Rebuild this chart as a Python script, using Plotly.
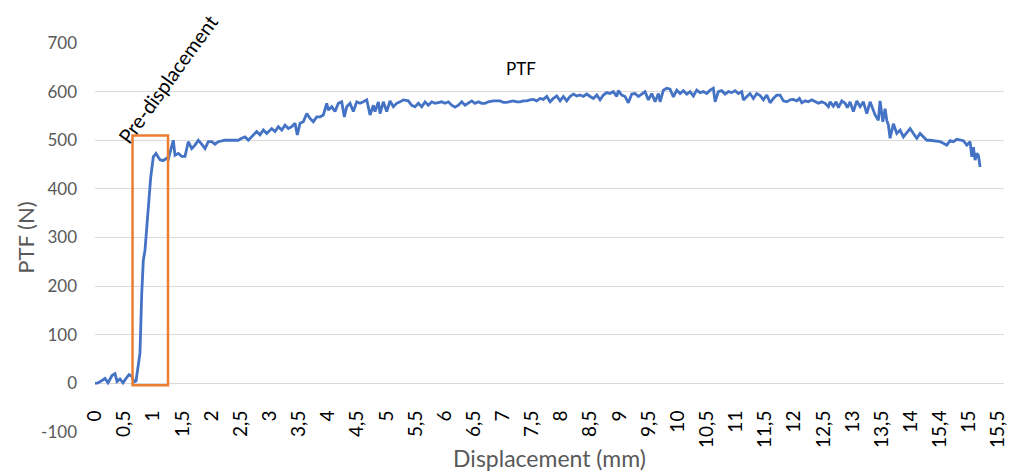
import plotly.graph_objects as go

# ---- data ----
displacement_mm = [
    0.000, 0.051, 0.120, 0.172, 0.223, 0.292, 0.343, 0.378, 0.429, 0.481,
    0.532, 0.584, 0.635, 0.669, 0.704, 0.738, 0.772, 0.802, 0.829, 0.858,
    0.915, 0.956, 1.001, 1.047, 1.081, 1.116, 1.167, 1.231, 1.258, 1.344,
    1.373, 1.430, 1.488, 1.545, 1.601, 1.660, 1.716, 1.773, 1.831, 1.888,
    1.945, 2.003, 2.060, 2.116, 2.231, 2.346, 2.460, 2.518, 2.575, 2.631,
    2.690, 2.775, 2.832, 2.889, 2.947, 3.033, 3.090, 3.146, 3.205, 3.261,
    3.318, 3.376, 3.433, 3.472, 3.519, 3.575, 3.634, 3.690, 3.747, 3.805,
    3.862, 3.918, 3.977, 4.004, 4.063, 4.119, 4.176, 4.234, 4.279, 4.320,
    4.377, 4.433, 4.492, 4.548, 4.605, 4.664, 4.720, 4.777, 4.806, 4.863,
    4.892, 4.948, 5.007, 5.063, 5.120, 5.178, 5.235, 5.292, 5.377, 5.436,
    5.492, 5.549, 5.607, 5.664, 5.721, 5.779, 5.836, 5.892, 5.951, 6.007,
    6.064, 6.122, 6.179, 6.236, 6.294, 6.351, 6.407, 6.466, 6.522, 6.579,
    6.637, 6.694, 6.751, 6.836, 6.951, 7.008, 7.066, 7.123, 7.180, 7.238,
    7.295, 7.351, 7.410, 7.466, 7.523, 7.581, 7.638, 7.695, 7.753, 7.810,
    7.866, 7.925, 7.982, 8.038, 8.096, 8.153, 8.210, 8.268, 8.325, 8.381,
    8.440, 8.496, 8.553, 8.611, 8.668, 8.725, 8.783, 8.839, 8.896, 8.954,
    8.982, 9.040, 9.097, 9.153, 9.212, 9.269, 9.325, 9.383, 9.440, 9.497,
    9.555, 9.612, 9.669, 9.698, 9.754, 9.813, 9.869, 9.926, 9.984, 10.041,
    10.097, 10.156, 10.212, 10.269, 10.327, 10.384, 10.441, 10.499, 10.556, 10.612,
    10.642, 10.698, 10.756, 10.813, 10.870, 10.928, 10.985, 11.041, 11.100, 11.127,
    11.186, 11.242, 11.299, 11.357, 11.414, 11.471, 11.529, 11.586, 11.642, 11.701,
    11.757, 11.814, 11.872, 11.929, 11.986, 12.044, 12.089, 12.130, 12.187, 12.243,
    12.302, 12.358, 12.415, 12.473, 12.530, 12.586, 12.616, 12.672, 12.719, 12.758,
    12.816, 12.873, 12.912, 12.958, 13.015, 13.074, 13.130, 13.187, 13.245, 13.302,
    13.359, 13.388, 13.444, 13.473, 13.520, 13.559, 13.589, 13.616, 13.645, 13.702,
    13.760, 13.817, 13.874, 13.932, 13.988, 14.045, 14.103, 14.160, 14.217, 14.275,
    14.331, 14.388, 14.447, 14.503, 14.560, 14.618, 14.675, 14.731, 14.790, 14.847,
    14.903, 14.962, 15.018, 15.047, 15.075, 15.104, 15.133, 15.161, 15.190,
]

ptf_n = [
    0, 1, 6, 10, 1, 16, 20, 4, 9, 1,
    10, 18, 14, 3, 5, 30, 62, 185, 253, 274,
    370, 424, 466, 473, 466, 460, 458, 463, 461, 500,
    469, 473, 467, 467, 497, 483, 490, 500, 492, 483,
    497, 497, 492, 497, 500, 500, 500, 504, 507, 500,
    507, 518, 511, 521, 514, 524, 518, 528, 521, 531,
    524, 528, 535, 511, 535, 538, 555, 545, 538, 548,
    548, 552, 576, 562, 569, 559, 576, 579, 548, 569,
    576, 559, 579, 576, 579, 583, 552, 572, 559, 579,
    555, 579, 559, 581, 569, 576, 579, 583, 581, 572,
    569, 576, 569, 579, 572, 579, 576, 578, 579, 576,
    579, 572, 568, 572, 579, 572, 576, 581, 576, 579,
    576, 576, 579, 581, 581, 578, 578, 579, 581, 579,
    579, 581, 581, 583, 584, 581, 586, 584, 590, 579,
    586, 591, 581, 590, 581, 590, 595, 591, 593, 590,
    595, 590, 586, 593, 583, 593, 598, 596, 600, 590,
    602, 593, 590, 577, 595, 596, 590, 595, 600, 583,
    596, 579, 596, 579, 603, 607, 605, 589, 603, 596,
    602, 595, 600, 591, 603, 598, 600, 596, 603, 607,
    579, 600, 602, 595, 600, 598, 602, 596, 600, 583,
    590, 596, 586, 596, 592, 583, 593, 577, 586, 593,
    593, 581, 579, 583, 584, 581, 586, 577, 581, 579,
    583, 579, 576, 579, 576, 569, 579, 570, 579, 567,
    581, 576, 567, 579, 559, 581, 569, 579, 555, 579,
    562, 552, 541, 581, 538, 565, 541, 531, 504, 534,
    514, 521, 507, 517, 524, 514, 504, 514, 507, 500,
    500, 499, 499, 497, 494, 490, 499, 497, 502, 500,
    499, 490, 497, 466, 486, 459, 473, 469, 445,
]

tick_positions = [0, 0.5, 1, 1.5, 2, 2.5, 3, 3.5, 4, 4.5, 5, 5.5, 6, 6.5, 7, 7.5,
                  8, 8.5, 9, 9.5, 10, 10.5, 11, 11.5, 12, 12.5, 13, 13.5, 14, 14.5,
                  15, 15.5]
tick_labels = ["0", "0,5", "1", "1,5", "2", "2,5", "3", "3,5", "4", "4,5", "5", "5,5",
               "6", "6,5", "7", "7,5", "8", "8,5", "9", "9,5", "10", "10,5", "11",
               "11,5", "12", "12,5", "13", "13,5", "14", "15,4", "15", "15,5"]

y_ticks = [-100, 0, 100, 200, 300, 400, 500, 600, 700]
y_tick_labels = ["-100", "0", "100", "200", "300", "400", "500", "600", "700"]

FONT = "Lato, 'Liberation Sans', sans-serif"
GRAY = "#595959"

fig = go.Figure()
fig.add_trace(go.Scatter(
    x=displacement_mm, y=ptf_n, mode="lines",
    line=dict(color="#4472C4", width=2.8),
    showlegend=False, hoverinfo="skip",
))

# Pre-displacement box
fig.add_shape(type="rect", xref="x", yref="y",
              x0=0.644, x1=1.253, y0=-4, y1=510,
              line=dict(color="#ED7D31", width=2.5), layer="above")

fig.add_annotation(x=7.31, y=648, xref="x", yref="y", text="PTF",
                   showarrow=False, font=dict(family=FONT, size=17, color="black"))
fig.add_annotation(x=1.25, y=625, xref="x", yref="y", text="Pre-displacement",
                   showarrow=False, textangle=-54,
                   font=dict(family=FONT, size=20, color="black"))

fig.update_layout(
    width=1025, height=474,
    margin=dict(l=95, r=21, t=43, b=42, autoexpand=False),
    paper_bgcolor="white", plot_bgcolor="white",
    font=dict(family=FONT),
    xaxis=dict(
        range=[0, 15.6], tickmode="array", tickvals=tick_positions, ticktext=tick_labels,
        tickangle=-90, tickfont=dict(family=FONT, size=19, color="black"),
        showgrid=False, zeroline=False, showline=True, linecolor="white", linewidth=3,
        ticks="", ticklabelstandoff=-32, automargin=False,
        title=dict(text="Displacement (mm)", font=dict(family=FONT, size=23, color=GRAY),
                   standoff=4),
    ),
    yaxis=dict(
        range=[-100, 700], tickmode="array", tickvals=y_ticks, ticktext=y_tick_labels,
        tickfont=dict(family=FONT, size=17, color=GRAY),
        showgrid=True, gridcolor="#d9d9d9", gridwidth=1, zeroline=False,
        showline=False, ticks="", ticklabelstandoff=17, automargin=False,
        title=dict(text="PTF (N)", font=dict(family=FONT, size=22, color=GRAY),
                   standoff=0),
    ),
)

fig.write_html("out.html")
